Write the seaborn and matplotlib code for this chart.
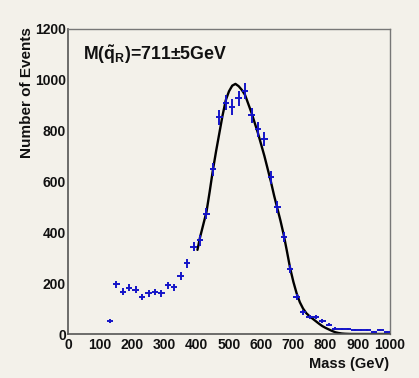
import matplotlib
matplotlib.use("Agg")
import matplotlib.pyplot as plt
import seaborn as sns
import pandas as pd
from matplotlib.ticker import MultipleLocator

# ---- data ----
bin_centers = [130, 150, 170, 190, 210, 230, 250, 270, 290, 310, 330, 350, 370, 390,
               410, 430, 450, 470, 490, 510, 530, 550, 570, 590, 610, 630, 650, 670,
               690, 710, 730, 750, 770, 790, 810, 830, 850, 870, 890, 910, 930, 950,
               970, 990]
events = [51, 195, 167, 182, 175, 145, 160, 165, 160, 191, 184, 227, 278, 344,
          368, 473, 648, 852, 910, 893, 928, 956, 860, 805, 766, 616, 500, 383,
          257, 144, 85, 68, 66, 51, 37, 21, 20, 19, 17, 17, 16, 9,
          14, 8]
event_err = [7, 14, 13, 13, 13, 12, 13, 13, 13, 14, 14, 15, 17, 19,
             20, 22, 25, 29, 30, 30, 30, 31, 29, 28, 28, 25, 22, 20,
             16, 12, 9, 8, 8, 7, 6, 5, 4, 4, 4, 4, 4, 3,
             4, 3]
bin_halfwidth = 10

fit_mass = [402, 410, 420, 430, 440, 450, 460, 470, 480, 490, 500, 510, 520, 530,
            540, 550, 560, 570, 580, 590, 600, 610, 620, 630, 640, 650, 660, 670,
            680, 690, 700, 710, 720, 730, 740, 750, 760, 770, 780, 790, 800, 810,
            820, 830, 840, 850, 860, 880, 1000]
fit_events = [331, 380, 430, 480, 560, 645, 720, 790, 860, 920, 955, 977, 984, 975,
              960, 940, 905, 870, 830, 790, 745, 700, 650, 600, 545, 495, 445, 390,
              325, 258, 205, 160, 125, 100, 82, 70, 60, 50, 40, 31, 24, 18,
              12, 7, 4, 2, 1, 0, 0]

label_text = r"M($\tilde{q}_R$)=711$\pm$5GeV"
x_title = "Mass (GeV)"
y_title = "Number of Events"

# ---- styling ----
sns.set_style("white")
plt.rcParams["font.family"] = ["Liberation Sans", "DejaVu Sans"]
plt.rcParams["mathtext.fontset"] = "custom"
plt.rcParams["mathtext.rm"] = "Liberation Sans:bold"
plt.rcParams["mathtext.it"] = "Liberation Sans:bold"
plt.rcParams["mathtext.bf"] = "Liberation Sans:bold"

bg = "#f3f1ea"
fig = plt.figure(figsize=(4.19, 3.78), dpi=100, facecolor=bg)
ax = fig.add_axes([68 / 419, 1 - 334 / 378, 322 / 419, 305 / 378])
ax.set_facecolor(bg)

fit_df = pd.DataFrame({"mass": fit_mass, "events": fit_events})
sns.lineplot(data=fit_df, x="mass", y="events", color="black", linewidth=1.7,
             ax=ax, zorder=2)

ax.errorbar(bin_centers, events, yerr=event_err, xerr=bin_halfwidth, fmt="none",
            ecolor="#1414c8", elinewidth=1.4, capsize=0, zorder=3)

ax.set_xlim(0, 1000)
ax.set_ylim(0, 1200)
ax.xaxis.set_major_locator(MultipleLocator(100))
ax.xaxis.set_minor_locator(MultipleLocator(20))
ax.yaxis.set_major_locator(MultipleLocator(200))
ax.yaxis.set_minor_locator(MultipleLocator(50))
ax.tick_params(axis="both", which="both", direction="in", colors="#555555",
               labelcolor="#111111", labelsize=10, top=False, right=False)
ax.tick_params(axis="both", which="major", length=7, width=1)
ax.tick_params(axis="both", which="minor", length=3.5, width=1)
ax.tick_params(axis="x", pad=3)
ax.tick_params(axis="y", pad=1.5)
for lab in ax.get_xticklabels() + ax.get_yticklabels():
    lab.set_fontweight("bold")

for side in ["left", "bottom"]:
    ax.spines[side].set_color("#555555")
    ax.spines[side].set_linewidth(1.2)
for side in ["top", "right"]:
    ax.spines[side].set_color("#777777")
    ax.spines[side].set_linewidth(1.0)

ax.set_xlabel("")
ax.set_ylabel("")
fig.text(389 / 419, 1 - 364 / 378, x_title, ha="right", va="center",
         fontsize=10.5, fontweight="bold", color="#111111")
fig.text(27 / 419, 1 - 27 / 378, y_title, ha="center", va="top", rotation=90,
         fontsize=11, fontweight="bold", color="#111111")

ax.text(0.046, 0.898, label_text, transform=ax.transAxes, ha="left",
        va="baseline", fontsize=12.8, fontweight="bold", color="#111111")

fig.savefig("out.png", dpi=100, facecolor=bg)
